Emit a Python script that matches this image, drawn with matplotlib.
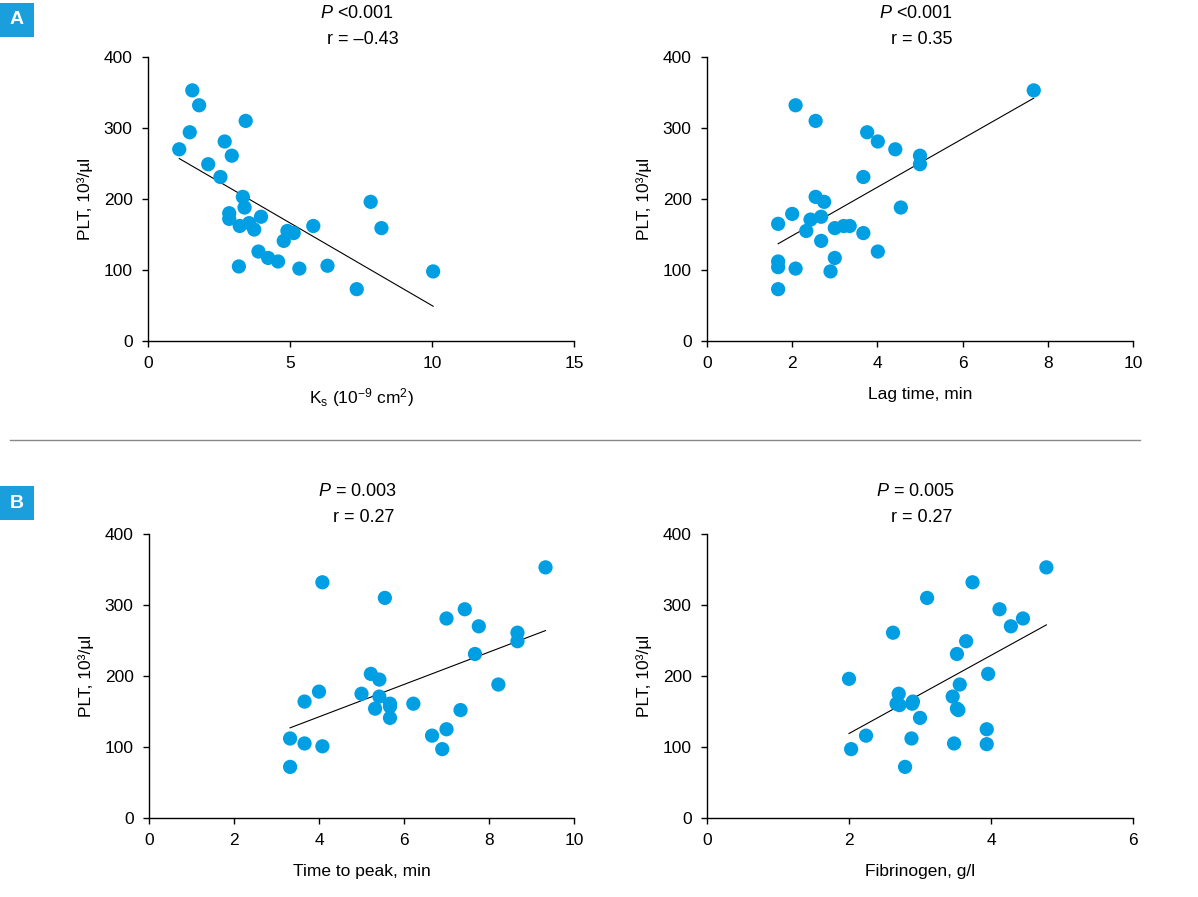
import matplotlib
matplotlib.use("Agg")
import matplotlib.pyplot as plt
from matplotlib.patches import Rectangle
from matplotlib.lines import Line2D

plt.rcParams["font.family"] = ["Liberation Sans", "DejaVu Sans"]
plt.rcParams["mathtext.fontset"] = "custom"
plt.rcParams["mathtext.rm"] = "Liberation Sans"
plt.rcParams["mathtext.it"] = "Liberation Sans:italic"

_DOT = "#009fe3"
_BOX = "#1b9fdc"

# --- panel A, left: Ks vs PLT ---
ks_x = [1.56, 1.80, 3.44, 1.47, 2.70, 1.10, 2.95, 2.12, 2.55, 3.34, 3.40, 7.84, 2.86, 2.86,
        3.98, 3.23, 3.56, 3.74, 5.82, 8.22, 4.91, 5.13, 4.78, 3.89, 4.23, 4.58, 3.20, 5.33,
        6.32, 10.04, 7.35]
ks_y = [353, 332, 310, 294, 281, 270, 261, 249, 231, 203, 188, 196, 180, 172,
        175, 162, 166, 157, 162, 159, 155, 152, 141, 126, 117, 112, 105, 102,
        106, 98, 73]
ks_fit_x = [1.10, 10.04]
ks_fit_y = [257, 49]

# --- panel A, right: lag time vs PLT ---
lag_x = [7.67, 2.08, 2.55, 3.76, 4.01, 4.42, 5.00, 5.00, 3.67, 2.55, 2.75, 4.55, 2.00, 2.43,
         2.68, 1.67, 3.00, 3.21, 3.35, 2.33, 3.67, 2.68, 4.01, 3.00, 1.67, 1.67, 2.08, 2.90,
         1.67]
lag_y = [353, 332, 310, 294, 281, 270, 261, 249, 231, 203, 196, 188, 179, 171,
         175, 165, 159, 162, 162, 155, 152, 141, 126, 117, 112, 104, 102, 98,
         73]
lag_fit_x = [1.67, 7.67]
lag_fit_y = [137, 342]

# --- panel B, left: time to peak vs PLT ---
ttp_x = [9.33, 4.08, 5.55, 7.43, 7.00, 7.76, 8.67, 8.67, 7.67, 5.22, 5.42, 8.22, 4.00, 5.00,
         3.66, 5.42, 5.67, 5.67, 6.22, 5.32, 7.33, 5.67, 7.00, 6.66, 3.32, 3.66, 4.08, 6.90,
         3.32]
ttp_y = [353, 332, 310, 294, 281, 270, 261, 249, 231, 203, 195, 188, 178, 175,
         164, 171, 161, 157, 161, 154, 152, 141, 125, 116, 112, 105, 101, 97,
         72]
ttp_fit_x = [3.32, 9.33]
ttp_fit_y = [127, 264]

# --- panel B, right: fibrinogen vs PLT ---
fib_x = [4.78, 3.74, 3.10, 4.12, 4.45, 4.28, 2.62, 3.65, 3.52, 3.96, 2.00, 3.56, 2.70, 3.46,
         2.90, 2.89, 2.67, 2.71, 3.52, 3.54, 3.00, 3.94, 2.24, 2.88, 3.48, 3.94, 2.03, 2.79]
fib_y = [353, 332, 310, 294, 281, 270, 261, 249, 231, 203, 196, 188, 175, 171,
         164, 161, 161, 159, 154, 152, 141, 125, 116, 112, 105, 104, 97, 72]
fib_fit_x = [2.00, 4.78]
fib_fit_y = [119, 272]

panels = [
    # (x, y, fit_x, fit_y, xmax, xstep, xlabel, p_text, r_text, rect)
    (ks_x, ks_y, ks_fit_x, ks_fit_y, 15, 5, r"K$_\mathrm{s}$ (10$^{-9}$ cm$^2$)",
     "<0.001", "r = \u20130.43", (148, 57, 574, 341)),
    (lag_x, lag_y, lag_fit_x, lag_fit_y, 10, 2, "Lag time, min",
     "<0.001", "r = 0.35", (707, 57, 1133, 341)),
    (ttp_x, ttp_y, ttp_fit_x, ttp_fit_y, 10, 2, "Time to peak, min",
     "= 0.003", "r = 0.27", (149, 534, 574, 818)),
    (fib_x, fib_y, fib_fit_x, fib_fit_y, 6, 2, "Fibrinogen, g/l",
     "= 0.005", "r = 0.27", (707, 534, 1133, 818)),
]

W, H = 1198, 897
fig = plt.figure(figsize=(W / 100, H / 100), dpi=100)

for x, y, fx, fy, xmax, xstep, xlabel, ptxt, rtxt, (l, t, r, b) in panels:
    ax = fig.add_axes([l / W, 1 - b / H, (r - l) / W, (b - t) / H])
    ax.plot(fx, fy, color="black", lw=0.8, zorder=2)
    ax.scatter(x, y, s=105, color=_DOT, edgecolors="none", zorder=3, clip_on=False)
    ax.set_xlim(0, xmax)
    ax.set_ylim(0, 400)
    ax.set_xticks(range(0, xmax + 1, xstep))
    ax.set_yticks(range(0, 401, 100))
    for side in ("top", "right"):
        ax.spines[side].set_visible(False)
    for side in ("left", "bottom"):
        ax.spines[side].set_linewidth(1.0)
    ax.tick_params(direction="out", length=4, width=1.0, labelsize=12.5, pad=7)
    ax.set_xlabel(xlabel, fontsize=12.5, labelpad=11)
    ax.set_ylabel("PLT, 10\u00b3/\u00b5l", fontsize=12.5, labelpad=8)
    ax.text(0.49, 1.0 + 43 / 284, r"$\mathit{P}$ " + ptxt, transform=ax.transAxes,
            ha="center", va="center", fontsize=13)
    ax.text(0.505, 1.0 + 17 / 284, rtxt, transform=ax.transAxes,
            ha="center", va="center", fontsize=13)

# panel letters
for letter, top in (("A", 3), ("B", 486)):
    fig.patches.append(Rectangle((0, 1 - (top + 34) / H), 34 / W, 34 / H,
                                 transform=fig.transFigure, color=_BOX, lw=0))
    fig.text(17 / W, 1 - (top + 17) / H, letter, color="white", fontsize=14,
             fontweight="bold", ha="center", va="center")

# separator
fig.lines.append(Line2D([10 / W, 1140 / W], [1 - 440 / H, 1 - 440 / H],
                        transform=fig.transFigure, color="#888888", lw=1.0))

fig.savefig("out.png", dpi=100)
